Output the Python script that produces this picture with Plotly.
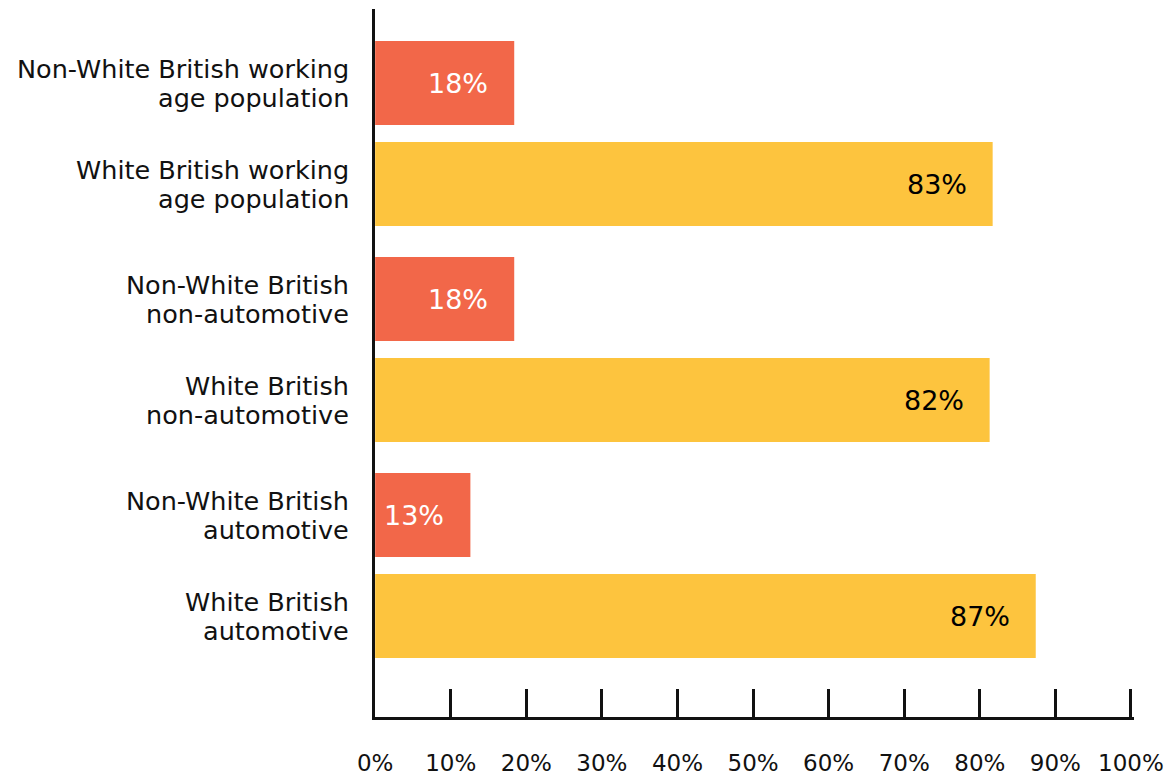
import plotly.graph_objects as go

categories = [
    "Non-White British working<br>age population",
    "White British working<br>age population",
    "Non-White British<br>non-automotive",
    "White British<br>non-automotive",
    "Non-White British<br>automotive",
    "White British<br>automotive",
]
values = [18.4, 81.7, 18.4, 81.3, 12.6, 87.4]
labels = ["18%", "83%", "18%", "82%", "13%", "87%"]
groups = [0, 0, 1, 1, 2, 2]
x_ticks = [0, 10, 20, 30, 40, 50, 60, 70, 80, 90, 100]
x_tick_labels = [f"{t}%" for t in x_ticks]

RED = "#F26749"
YELLOW = "#FDC43E"
colors = [RED if i % 2 == 0 else YELLOW for i in range(len(values))]
text_colors = ["white" if i % 2 == 0 else "black" for i in range(len(values))]

GROUP_GAP = 0.139
pos = [i + g * GROUP_GAP for i, g in enumerate(groups)]

FONT = "DejaVu Sans"
INK = "#111111"

fig = go.Figure()
fig.add_trace(go.Bar(
    x=values, y=pos, orientation="h",
    marker=dict(color=colors, line=dict(width=0)),
    width=0.832, hoverinfo="skip",
))

# value labels inside the bars
for p, v, t, c in zip(pos, values, labels, text_colors):
    fig.add_annotation(x=v, y=p, text=t, showarrow=False, xanchor="right",
                       xshift=-24, font=dict(family=FONT, size=27, color=c))

# category labels, line by line for tight spacing
LINE_GAP = 29
for p, cat in zip(pos, categories):
    lines = cat.split("<br>")
    n = len(lines)
    for k, line in enumerate(lines):
        shift = ((n - 1) / 2 - k) * LINE_GAP
        fig.add_annotation(xref="paper", x=0, y=p, text=line, showarrow=False,
                           xanchor="right", yanchor="middle", xshift=-24,
                           yshift=shift,
                           font=dict(family=FONT, size=25.5, color=INK))

fig.update_layout(
    width=1175, height=776,
    margin=dict(l=375, r=41, t=9, b=59),
    plot_bgcolor="white", paper_bgcolor="white",
    showlegend=False,
    xaxis=dict(
        range=[-0.02, 100.4], tickvals=x_ticks, ticktext=x_tick_labels,
        ticks="inside", ticklen=28, tickwidth=3, tickcolor=INK,
        showline=True, linewidth=3, linecolor=INK,
        showgrid=False, zeroline=False, automargin=False,
        tickfont=dict(family=FONT, size=23, color=INK),
        ticklabelstandoff=23, fixedrange=True,
    ),
    yaxis=dict(
        range=[5.278 + 1.0, -0.733],
        tickvals=pos, ticktext=[""] * len(pos),
        ticks="", showline=True, linewidth=3, linecolor=INK,
        showgrid=False, zeroline=False, automargin=False,
        fixedrange=True,
    ),
)

fig.write_html("out.html")
